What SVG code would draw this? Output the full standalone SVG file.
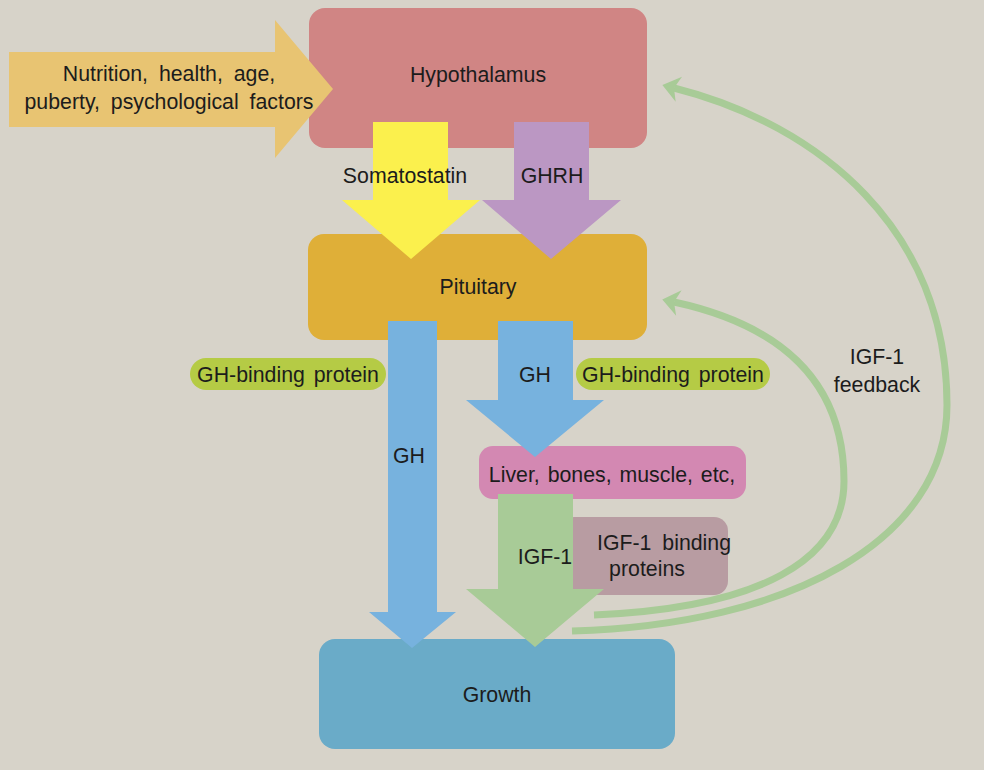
<svg xmlns="http://www.w3.org/2000/svg" width="984" height="770" viewBox="0 0 984 770">
<defs>
<style>
text{font-family:"Liberation Sans",Arial,Helvetica,sans-serif;font-size:21.3px;fill:#1c1c1c;text-anchor:middle;word-spacing:5px}
.fb{fill:none;stroke:#a8cb97;stroke-width:7}
</style>
<marker id="fh" markerUnits="userSpaceOnUse" viewBox="-2 -14 22 28" markerWidth="22" markerHeight="28" refX="5" refY="0" orient="auto">
<path d="M0,-13 L17,0 L0,13 L5,0 Z" fill="#a8cb97"/>
</marker>
</defs>
<rect width="984" height="770" fill="#d7d3c9"/>
<g id="hypothalamus"><rect x="309" y="8" width="338" height="140" rx="16" fill="#d08584"/><text x="478" y="82">Hypothalamus</text></g>
<g id="pituitary"><rect x="308" y="234" width="339" height="106" rx="16" fill="#dfaf38"/><text x="478" y="294">Pituitary</text></g>
<g id="ghbp-left"><rect x="190" y="358" width="196" height="32" rx="16" fill="#b5cb45"/><text x="288" y="382" style="word-spacing:3px">GH-binding protein</text></g>
<g id="ghbp-right"><rect x="576" y="358" width="194" height="32" rx="16" fill="#b5cb45"/><text x="673" y="382" style="word-spacing:3px">GH-binding protein</text></g>
<g id="liver"><rect x="479" y="446" width="267" height="53" rx="14" fill="#d388b2"/><text x="612" y="482" style="word-spacing:2px">Liver, bones, muscle, etc,</text></g>
<g id="igfbp"><rect x="560" y="517" width="168" height="78" rx="14" fill="#b89ca2"/><text x="664" y="550">IGF-1 binding</text><text x="647" y="576">proteins</text></g>
<g id="growth"><rect x="319" y="639" width="356" height="110" rx="16" fill="#6aabc8"/><text x="497" y="702">Growth</text></g>
<g id="connectors">
<g id="factors"><polygon points="9,52 275,52 275,20 333,89 275,158 275,127 9,127" fill="#e8c472"/><text x="169" y="81">Nutrition, health, age,</text><text x="169" y="109">puberty, psychological factors</text></g>
<g id="somatostatin"><polygon points="373,122 448,122 448,200 480,200 411,259 342,200 373,200" fill="#fbf04d"/><text x="405" y="183">Somatostatin</text></g>
<g id="ghrh"><polygon points="514,122 589,122 589,200 621,200 551,259 482,200 514,200" fill="#bb97c3"/><text x="552" y="183">GHRH</text></g>
<g id="gh-direct"><polygon points="388,321 437,321 437,612 456,612 412,648 369,612 388,612" fill="#77b2de"/><text x="409" y="463">GH</text></g>
<g id="gh-liver"><polygon points="498,321 573,321 573,400 604,400 535,457 466,400 498,400" fill="#77b2de"/><text x="535" y="382">GH</text></g>
<g id="igf1"><polygon points="498,494 573,494 573,589 604,589 535,647 466,589 498,589" fill="#a8cb97"/><text x="545" y="564">IGF-1</text></g>
<path class="fb" d="M594,615 C760,608 844,560 844,481 C844,380 780,325 674,302" marker-end="url(#fh)"/>
<path class="fb" d="M572,631 C790,625 947,540 947,405 C947,230 820,125 674,88" marker-end="url(#fh)"/>
<text x="877" y="364">IGF-1</text><text x="877" y="392">feedback</text>
</g>
</svg>
